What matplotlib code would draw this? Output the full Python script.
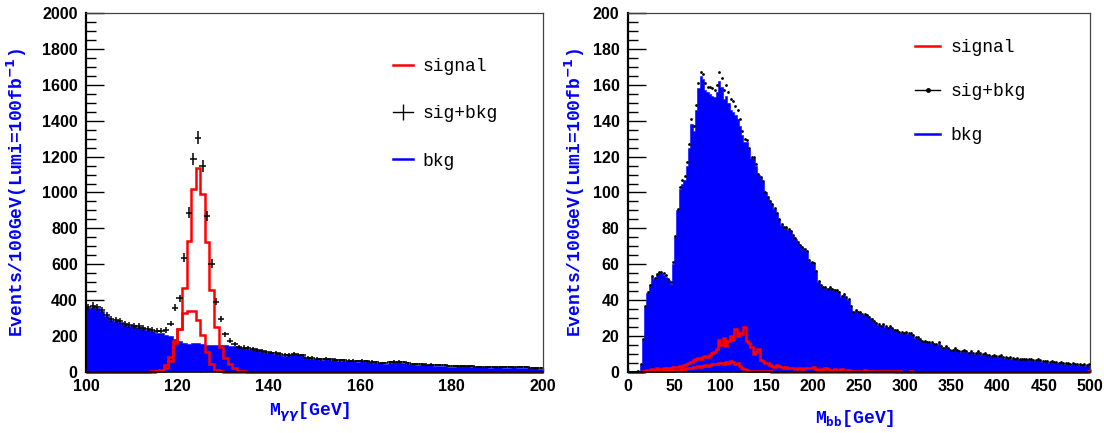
import numpy as np
import matplotlib
matplotlib.use("Agg")
import matplotlib.pyplot as plt
from matplotlib.lines import Line2D
from matplotlib.ticker import MultipleLocator

# left panel: M_gamma-gamma, 1 GeV bins from 100 to 200
mgg_edges = np.arange(100, 201, 1)
mgg_bkg = [355, 360, 358, 341, 313, 290, 285, 280, 262, 258,
           256, 252, 240, 236, 230, 220, 215, 205, 198, 185,
           170, 160, 156, 160, 163, 158, 153, 152, 150, 150,
           148, 146, 143, 140, 135, 130, 125, 120, 112, 108,
           105, 102, 96, 91, 92, 96, 95, 88, 76, 74,
           70, 69, 70, 68, 66, 63, 63, 61, 59, 58,
           59, 57, 54, 50, 48, 47, 50, 54, 55, 52,
           45, 43, 40, 39, 38, 38, 36, 35, 34, 30,
           30, 31, 32, 31, 28, 27, 26, 26, 25, 26,
           27, 25, 24, 26, 25, 23, 24, 22, 20, 18]
mgg_sig = [0, 0, 0, 0, 0, 0, 0, 0, 0, 0,
           0, 0, 1, 2, 4, 7, 12, 40, 81, 174,
           238, 466, 730, 1018, 1138, 990, 725, 457, 250, 140,
           78, 42, 20, 8, 4, 2, 1, 0, 0, 0,
           0, 0, 0, 0, 0, 0, 0, 0, 0, 0,
           0, 0, 0, 0, 0, 0, 0, 0, 0, 0,
           0, 0, 0, 0, 0, 0, 0, 0, 0, 0,
           0, 0, 0, 0, 0, 0, 0, 0, 0, 0,
           0, 0, 0, 0, 0, 0, 0, 0, 0, 0,
           0, 0, 0, 0, 0, 0, 0, 0, 0, 0]
mgg_sig_small = [0, 0, 0, 0, 0, 0, 0, 0, 0, 0,
                 0, 0, 0, 1, 2, 3, 5, 20, 60, 160,
                 240, 330, 342, 340, 292, 205, 110, 45, 12, 3,
                 1, 0, 0, 0, 0, 0, 0, 0, 0, 0,
                 0, 0, 0, 0, 0, 0, 0, 0, 0, 0,
                 0, 0, 0, 0, 0, 0, 0, 0, 0, 0,
                 0, 0, 0, 0, 0, 0, 0, 0, 0, 0,
                 0, 0, 0, 0, 0, 0, 0, 0, 0, 0,
                 0, 0, 0, 0, 0, 0, 0, 0, 0, 0,
                 0, 0, 0, 0, 0, 0, 0, 0, 0, 0]
mgg_sigbkg = [362, 368, 360, 345, 318, 296, 292, 284, 266, 262,
              258, 255, 244, 240, 236, 230, 230, 235, 270, 359,
              411, 637, 887, 1187, 1304, 1146, 868, 604, 391, 294,
              211, 174, 156, 140, 136, 132, 128, 122, 115, 112,
              108, 105, 100, 95, 96, 99, 97, 92, 80, 78,
              74, 72, 73, 71, 69, 66, 66, 64, 62, 61,
              62, 60, 57, 53, 51, 50, 53, 57, 58, 55,
              48, 46, 43, 42, 41, 41, 39, 38, 37, 33,
              33, 34, 35, 34, 31, 30, 29, 29, 28, 29,
              30, 28, 27, 29, 28, 26, 27, 25, 23, 21]

# right panel: M_bb, 2.5 GeV bins from 0 to 500
mbb_edges = np.linspace(0, 500, 201)
mbb_bkg = [0, 0, 0, 0, 0, 4, 18, 36, 44, 48,
           53, 52, 54, 55, 55, 54, 53, 51, 49, 60,
           75, 90, 102, 105, 107, 115, 125, 138, 134, 146,
           158, 165, 163, 157, 156, 155, 154, 153, 156, 162,
           159, 152, 154, 150, 146, 145, 143, 141, 137, 132,
           128, 128, 124, 119, 119, 115, 110, 108, 106, 100,
           97, 95, 93, 91, 88, 85, 82, 80, 80, 79,
           78, 76, 74, 72, 70, 69, 68, 67, 62, 61,
           60, 56, 50, 48, 47, 47, 46, 47, 46, 45,
           45, 44, 42, 43, 41, 40, 36, 33, 34, 33,
           33, 32, 32, 31, 30, 29, 28, 27, 26, 25,
           26, 25, 24, 25, 24, 23, 23, 22, 22, 21,
           22, 21, 21, 20, 19, 19, 18, 17, 17, 16,
           16, 16, 15, 15, 16, 14, 13, 14, 13, 12,
           12, 13, 12, 11, 11, 12, 11, 10, 11, 10,
           10, 11, 10, 9.5, 10, 9, 9, 8.5, 9, 8.5,
           8.5, 9, 8, 8, 7.5, 8, 7.5, 7, 7.5, 7,
           7, 6.5, 7, 6.5, 6.5, 6, 6, 6.5, 6, 5.5,
           5.5, 5.5, 5, 5.5, 5, 5, 4.5, 5, 4.5, 4.5,
           4.5, 4, 4.5, 4, 4, 4, 3.5, 4, 3.5, 4]
mbb_sig = [0, 0, 0, 0, 0, 0.2, 0.5, 0.8, 1.0, 1.2,
           1.5, 1.2, 2.0, 1.5, 1.8, 2.2, 1.5, 2.5, 2.0, 2.8,
           3.0, 2.8, 3.5, 3.0, 4.0, 4.5, 5.0, 5.5, 6.5, 7.0,
           8.0, 7.5, 8.5, 9.0, 8.5, 9.5, 10.5, 11.0, 13.0, 18.0,
           15.0, 19.0, 14.5, 17.0, 20.0, 18.0, 24.0, 20.0, 22.0, 21.0,
           25.0, 17.0, 16.0, 14.0, 10.0, 11.0, 13.0, 6.5, 6.0, 5.0,
           5.0, 4.0, 3.5, 3.0, 4.0, 3.5, 3.0, 2.5, 3.0, 2.0,
           2.5, 2.0, 1.5, 2.0, 2.0, 1.5, 2.5, 2.0, 2.5, 2.0,
           3.0, 1.5, 1.2, 1.5, 1.0, 2.0, 1.5, 1.0, 1.0, 1.5,
           1.0, 1.0, 1.5, 0.8, 0.8, 1.0, 0.8, 0.6, 0.8, 0.6,
           0.8, 0.6, 1.2, 0.6, 0.5, 0.5, 0.6, 0.4, 0.5, 0.4,
           0.4, 0.3, 0.4, 0.3, 0.3, 0.3, 0.2, 0.3, 0.2, 0.2,
           0.2, 0.2, 0.3, 0.2, 0.2, 0.1, 0.2, 0.1, 0.2, 0.1,
           0.1, 0.2, 0.1, 0.1, 0.2, 0.1, 0.1, 0.1, 0.1, 0.1,
           0.1, 0.1, 0.1, 0.1, 0.1, 0.1, 0.1, 0.1, 0.1, 0.1,
           0.1, 0.1, 0.1, 0.1, 0.1, 0.1, 0.1, 0.1, 0.1, 0.1,
           0.1, 0.1, 0.1, 0.1, 0.1, 0.1, 0.1, 0.1, 0.1, 0.1,
           0.1, 0.1, 0.1, 0.1, 0.1, 0.1, 0.1, 0.1, 0.1, 0.1,
           0.1, 0.1, 0.1, 0.1, 0.1, 0.1, 0.1, 0.1, 0.1, 0.1,
           0.1, 0.1, 0.1, 0.1, 0.1, 0.1, 0.1, 0.1, 0.1, 0.6]
mbb_sig_small = [0, 0, 0, 0, 0, 0.1, 0.2, 0.3, 0.4, 0.5,
                 0.5, 0.6, 0.5, 0.7, 0.6, 0.8, 0.7, 0.9, 0.8, 1.0,
                 1.0, 1.2, 1.3, 1.5, 1.8, 2.0, 2.3, 2.5, 2.8, 3.0,
                 3.2, 3.0, 3.5, 3.8, 3.5, 4.0, 4.2, 4.5, 4.3, 4.8,
                 5.0, 4.6, 5.5, 5.2, 6.0, 5.5, 4.5, 4.8, 3.5, 2.0,
                 1.5, 1.0, 0.8, 0.6, 0.5, 0.5, 0.4, 0.4, 0.3, 0.3,
                 0.3, 0.3, 0.2, 0.2, 0.2, 0.2, 0.2, 0.2, 0.2, 0.2,
                 0.1, 0.1, 0.1, 0.1, 0.1, 0.1, 0.1, 0.1, 0.1, 0.1,
                 0.1, 0.1, 0.1, 0.1, 0.1, 0.1, 0.1, 0.1, 0.1, 0.1,
                 0.1, 0.1, 0.1, 0.1, 0.1, 0.1, 0.1, 0.1, 0.1, 0.1,
                 0, 0, 0, 0, 0, 0, 0, 0, 0, 0,
                 0, 0, 0, 0, 0, 0, 0, 0, 0, 0,
                 0, 0, 0, 0, 0, 0, 0, 0, 0, 0,
                 0, 0, 0, 0, 0, 0, 0, 0, 0, 0,
                 0, 0, 0, 0, 0, 0, 0, 0, 0, 0,
                 0, 0, 0, 0, 0, 0, 0, 0, 0, 0,
                 0, 0, 0, 0, 0, 0, 0, 0, 0, 0,
                 0, 0, 0, 0, 0, 0, 0, 0, 0, 0,
                 0, 0, 0, 0, 0, 0, 0, 0, 0, 0,
                 0, 0, 0, 0, 0, 0, 0, 0, 0, 0]
mbb_sigbkg = [0, 0, 0, 0, 0.5, 4.5, 18.5, 36.5, 44.5, 48.5,
              53.5, 52.5, 54.5, 55.5, 55.5, 55, 54, 52, 50, 61,
              76, 91, 103, 107, 109, 117, 127, 141, 137, 149,
              161, 167, 166, 161, 159, 159, 158, 157, 160, 167,
              164, 157, 160, 156, 152, 151, 148, 146, 141, 134,
              130, 129, 125, 120, 120, 116, 110.5, 108.5, 106.5, 100.5,
              97.5, 95.5, 93.5, 91.5, 88.5, 85.5, 82.5, 80.5, 80.5, 79.5,
              78.5, 76.5, 74.5, 72.5, 70.5, 69.5, 68.5, 67.5, 62.5, 61.5,
              60.5, 56.5, 50.5, 48.5, 47.5, 47.5, 46.5, 47.5, 46.5, 45.5,
              45.5, 44.5, 42.5, 43.5, 41.5, 40.5, 36.5, 33.5, 34.5, 33.5,
              33.5, 32.5, 32.5, 31.5, 30.5, 29.5, 28.5, 27.5, 26.5, 25.5,
              26.5, 25.5, 24.5, 25.5, 24.5, 23.5, 23.5, 22.5, 22.5, 21.5,
              22.5, 21.5, 21.5, 20.5, 19.5, 19.5, 18.5, 17.5, 17.5, 16.5,
              16.5, 16.5, 15.5, 15.5, 16.5, 14.5, 13.5, 14.5, 13.5, 12.5,
              12.5, 13.5, 12.5, 11.5, 11.5, 12.5, 11.5, 10.5, 11.5, 10.5,
              10.5, 11.5, 10.5, 10, 10.5, 9.5, 9.5, 9, 9.5, 9,
              9, 9.5, 8.5, 8.5, 8, 8.5, 8, 7.5, 8, 7.5,
              7.5, 7, 7.5, 7, 7, 6.5, 6.5, 7, 6.5, 6,
              6, 6, 5.5, 6, 5.5, 5.5, 5, 5.5, 5, 5,
              5, 4.5, 5, 4.5, 4.5, 4.5, 4, 4.5, 4, 4.5]

BLUE = '#0000ff'
RED = '#ff0000'

plt.rcParams['font.family'] = 'Liberation Sans'
plt.rcParams['font.weight'] = 'bold'
plt.rcParams['mathtext.fontset'] = 'dejavusans'

fig = plt.figure(figsize=(11.04, 4.33), dpi=100)
ax1 = fig.add_axes([0.0779, 0.1409, 0.4139, 0.8291])
ax2 = fig.add_axes([0.5688, 0.1409, 0.4185, 0.8291])


def style_axes(ax, xlim, ylim, xmaj, xmin, ymaj, ymin):
    ax.set_xlim(*xlim)
    ax.set_ylim(*ylim)
    ax.xaxis.set_major_locator(MultipleLocator(xmaj))
    ax.xaxis.set_minor_locator(MultipleLocator(xmin))
    ax.yaxis.set_major_locator(MultipleLocator(ymaj))
    ax.yaxis.set_minor_locator(MultipleLocator(ymin))
    ax.tick_params(which='both', direction='in', top=False, right=False,
                   labelsize=11.5, width=1)
    ax.tick_params(axis='y', which='major', length=13, pad=6)
    ax.tick_params(axis='y', which='minor', length=7)
    ax.tick_params(axis='x', which='major', length=3, pad=5)
    ax.tick_params(axis='x', which='minor', length=1.5)
    ax.set_axisbelow(True)
    ax.spines['left'].set_linewidth(1.6)
    ax.spines['bottom'].set_linewidth(1.2)
    for s in ('top', 'right'):
        ax.spines[s].set_linewidth(0.9)
        ax.spines[s].set_color('#444444')


# ---- left: M_gamma gamma
ax1.stairs(mgg_bkg, mgg_edges, fill=True, facecolor=BLUE, edgecolor=BLUE,
           lw=0.4, zorder=1)
ax1.stairs(mgg_sig_small, mgg_edges, color=RED, lw=1.8, zorder=2, clip_on=False)
ax1.stairs(mgg_sig, mgg_edges, color=RED, lw=1.8, zorder=2, clip_on=False)
mgg_centers = mgg_edges[:-1] + 0.5
ax1.errorbar(mgg_centers, mgg_sigbkg, xerr=0.7, yerr=np.sqrt(mgg_sigbkg),
             fmt='none', ecolor='k', elinewidth=1.1, zorder=3)
style_axes(ax1, (100, 200), (0, 2000), 20, 5, 200, 50)

h1 = [Line2D([], [], color=RED, lw=1.8),
      Line2D([], [], color='k', lw=1, marker='|', markersize=11),
      Line2D([], [], color=BLUE, lw=1.8)]
ax1.legend(h1, ['signal', 'sig+bkg', 'bkg'], loc='upper left',
           bbox_to_anchor=(0.672, 0.875), frameon=False, borderpad=0,
           borderaxespad=0, handlelength=1.1, handletextpad=0.55,
           labelspacing=1.68,
           prop={'family': 'Liberation Mono', 'weight': 'normal', 'size': 13})

# ---- right: M_bb
ax2.stairs(mbb_bkg, mbb_edges, fill=True, facecolor=BLUE, edgecolor=BLUE,
           lw=0.4, zorder=1)
ax2.stairs(mbb_sig_small, mbb_edges, color=RED, lw=1.8, zorder=2, clip_on=False)
ax2.stairs(mbb_sig, mbb_edges, color=RED, lw=1.8, zorder=2, clip_on=False)
mbb_centers = mbb_edges[:-1] + 1.25
ax2.plot(mbb_centers, mbb_sigbkg, 'o', color='k', ms=2, mew=0, zorder=3)
style_axes(ax2, (0, 500), (0, 200), 50, 10, 20, 5)

h2 = [Line2D([], [], color=RED, lw=1.8),
      Line2D([], [], color='k', lw=1, marker='o', markersize=2.5),
      Line2D([], [], color=BLUE, lw=1.8)]
ax2.legend(h2, ['signal', 'sig+bkg', 'bkg'], loc='upper left',
           bbox_to_anchor=(0.621, 0.928), frameon=False, borderpad=0,
           borderaxespad=0, handlelength=1.4, handletextpad=0.55,
           labelspacing=1.5,
           prop={'family': 'Liberation Mono', 'weight': 'normal', 'size': 13})

lab = dict(color=BLUE, fontfamily='Liberation Mono', fontweight='bold', fontsize=13)
ax1.set_ylabel('Events/100GeV(Lumi=100fb$^{-1}$)', **lab)
ax2.set_ylabel('Events/100GeV(Lumi=100fb$^{-1}$)', **lab)
ax1.yaxis.set_label_coords(-0.125, 0.5)
ax2.yaxis.set_label_coords(-0.089, 0.5)
ax1.set_xlabel(r'M$_{\gamma\gamma}$[GeV]', **lab)
ax2.set_xlabel(r'M$_{\mathtt{bb}}$[GeV]', **lab)
ax1.xaxis.set_label_coords(0.49, -0.08)
ax2.xaxis.set_label_coords(0.49, -0.10)

fig.savefig('out.png', dpi=100)
